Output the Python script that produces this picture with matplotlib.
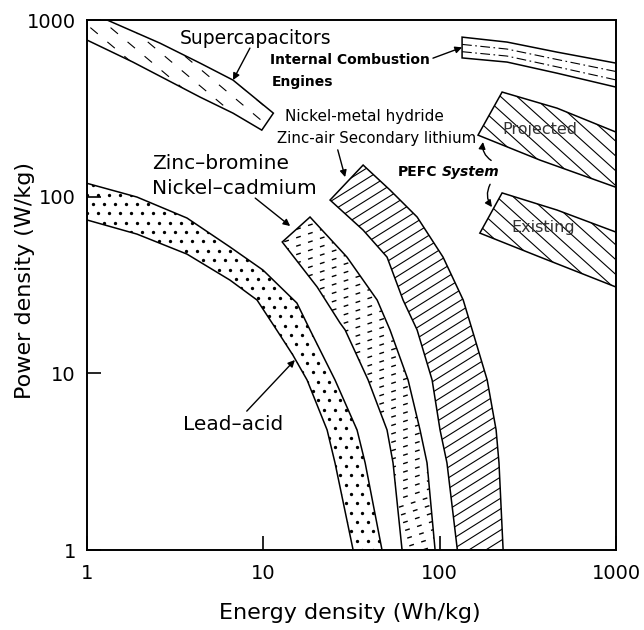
import numpy as np
import matplotlib
matplotlib.use("Agg")
import matplotlib.pyplot as plt
from matplotlib.patches import Polygon
from matplotlib.collections import LineCollection

plt.rcParams['lines.scale_dashes'] = False

# energy density (Wh/kg) / power density (W/kg)
lead_out_e = [1, 1.92, 3.69, 6.47, 9.96, 15.5, 18.4, 25.5, 34.0, 37.8, 47.1]
lead_out_p = [119, 99.5, 75.7, 51.9, 38.4, 25.0, 17.6, 9.17, 4.78, 3.11, 1]
lead_in_e = [1, 1.92, 3.69, 6.47, 9.21, 11.9, 14.7, 17.7, 23.0, 25.5, 32.3]
lead_in_p = [73.8, 61.4, 47.3, 33.7, 26.0, 17.6, 12.7, 9.17, 4.78, 3.11, 1]

zinc_out_e = [18.4, 29.8, 44.2, 52.3, 66.2, 77.4, 84.8, 94.2]
zinc_out_p = [76.7, 45.5, 26.0, 17.6, 9.17, 4.78, 3.11, 1]
zinc_in_e = [12.8, 20.2, 27.2, 29.1, 39.3, 50.3, 54.4, 61.2]
zinc_in_p = [55.4, 30.8, 19.3, 17.6, 9.17, 4.78, 3.11, 1]

nimh_out_e = [36.8, 52.3, 74.5, 104.5, 136, 153, 186, 209, 217, 229]
nimh_out_p = [151, 109, 76.7, 45.5, 26.0, 17.6, 9.17, 4.78, 3.11, 1]
nimh_in_e = [23.9, 36.8, 50.3, 62.0, 74.5, 90.6, 100.5, 110, 126]
nimh_in_p = [95.7, 64.7, 45.5, 26.0, 17.6, 9.17, 4.78, 3.11, 1]

cap_up_e = [1.30, 2.59, 4.38, 6.73, 11.4]
cap_up_p = [1000, 740, 570, 457, 297]
cap_lo_e = [1, 1.82, 4.38, 6.73, 9.8]
cap_lo_p = [770, 578, 366, 297, 238]

eng_e = [134, 241, 463, 1000]
eng_up = [800, 750, 658, 570]
eng_lo = [610, 578, 500, 417]

proj_up_e, proj_up_p = [226, 463, 1000], [391, 317, 232]
proj_lo_e, proj_lo_p = [165, 371, 1000], [223, 161, 113]
exist_up_e, exist_up_p = [226, 463, 1000], [105, 84, 63]
exist_lo_e, exist_lo_p = [169, 371, 1000], [62.2, 45.5, 30.8]

ticks = [1, 10, 100, 1000]
tick_labels = ['1', '10', '100', '1000']


def band(ax, e1, p1, e2, p2, extra=()):
    pts = list(zip(e1, p1)) + list(zip(e2, p2))[::-1] + list(extra)
    patch = Polygon(pts, closed=True, facecolor='none', edgecolor='k', lw=1.1)
    ax.add_patch(patch)
    return patch


def hatch(ax, patch, angle, step, lw=0.8, ls='-'):
    a = np.radians(angle)
    d = np.array([np.cos(a), np.sin(a)])
    n = np.array([-np.sin(a), np.cos(a)])
    c0 = np.array([0.5, 0.5])
    segs = [[c0 + c * n - 1.5 * d, c0 + c * n + 1.5 * d]
            for c in np.arange(-1.0, 1.0, step / 530)]
    lc = LineCollection(segs, colors='k', linewidths=lw, linestyles=[ls],
                        transform=ax.transAxes)
    ax.add_collection(lc, autolim=False)
    lc.set_clip_path(patch)


def dots(ax, patch, step):
    gx, gy = np.meshgrid(np.arange(0, 1, step / 529), np.arange(0, 1, step * 0.85 / 530))
    gx = gx + (np.arange(gy.shape[0]) % 2)[:, None] * step / 529 / 2
    ln, = ax.plot(gx.ravel(), gy.ravel(), 'o', ms=2.4, color='k', mew=0,
                  transform=ax.transAxes)
    ln.set_clip_path(patch)


fig = plt.figure(figsize=(6.44, 6.30), dpi=100)
ax = fig.add_axes([87 / 644, 80 / 630, 529 / 644, 530 / 630])
ax.set_xscale('log')
ax.set_yscale('log')

# bands
p = band(ax, lead_out_e, lead_out_p, lead_in_e, lead_in_p)
dots(ax, p, 11)
p = band(ax, zinc_out_e, zinc_out_p, zinc_in_e, zinc_in_p)
hatch(ax, p, 18, 8, lw=1.0, ls=(0, (3.5, 5.5)))
p = band(ax, nimh_out_e, nimh_out_p, nimh_in_e, nimh_in_p)
hatch(ax, p, 32, 9)
p = band(ax, cap_lo_e, cap_lo_p, cap_up_e, cap_up_p, extra=[(1, 1000)])
hatch(ax, p, -40, 13, lw=0.8, ls=(0, (7, 9)))
p = band(ax, eng_e, eng_up, eng_e, eng_lo)
up, lo = np.array(eng_up), np.array(eng_lo)
for f in (0.3, 0.65):
    ln, = ax.plot(eng_e, up ** f * lo ** (1 - f), color='k', lw=0.8,
                  ls=(0, (7, 2.5, 1.2, 2.5)))
    ln.set_clip_path(p)
p = band(ax, proj_up_e, proj_up_p, proj_lo_e, proj_lo_p)
hatch(ax, p, -42, 11)
p = band(ax, exist_up_e, exist_up_p, exist_lo_e, exist_lo_p)
hatch(ax, p, -42, 11)

# labels and arrows
arrow = dict(arrowstyle='-|>', color='k', lw=1.0, mutation_scale=10,
             shrinkA=0, shrinkB=0)
fa = 'axes fraction'
ax.text(0.176, 0.966, 'Supercapacitors', transform=ax.transAxes, fontsize=13.5, va='center')
ax.annotate('', xy=(6.73, 457), xytext=(0.308, 0.947), textcoords=fa, arrowprops=arrow)

ax.text(0.346, 0.925, 'Internal Combustion', transform=ax.transAxes, fontsize=10,
        fontweight='bold', va='center')
ax.text(0.350, 0.883, 'Engines', transform=ax.transAxes, fontsize=10,
        fontweight='bold', va='center')
ax.annotate('', xy=(134, 700), xytext=(0.654, 0.928), textcoords=fa, arrowprops=arrow)

ax.text(0.374, 0.817, 'Nickel-metal hydride', transform=ax.transAxes, fontsize=11, va='center')
ax.text(0.359, 0.777, 'Zinc-air Secondary lithium', transform=ax.transAxes, fontsize=10.8,
        va='center')
ax.annotate('', xy=(29.1, 129), xytext=(0.474, 0.755), textcoords=fa, arrowprops=arrow)

ax.text(0.123, 0.730, 'Zinc\u2013bromine', transform=ax.transAxes, fontsize=14.5, va='center')
ax.text(0.123, 0.683, 'Nickel\u2013cadmium', transform=ax.transAxes, fontsize=14.5, va='center')
ax.annotate('', xy=(14.2, 68.2), xytext=(0.318, 0.664), textcoords=fa, arrowprops=arrow)

ax.text(0.181, 0.236, 'Lead\u2013acid', transform=ax.transAxes, fontsize=14.5, va='center')
ax.annotate('', xy=(15.1, 11.9), xytext=(0.302, 0.262), textcoords=fa, arrowprops=arrow)

pefc = ax.text(0.588, 0.713, 'PEFC', transform=ax.transAxes, fontsize=10,
               fontweight='bold', va='center')
ax.annotate('System', xy=(1, 0.5), xycoords=pefc, xytext=(3, 0), textcoords='offset points',
            fontsize=10, fontweight='bold', fontstyle='italic', va='center')
ax.annotate('', xy=(176, 204), xytext=(0.764, 0.735), textcoords=fa,
            arrowprops=dict(arrow, connectionstyle='arc3,rad=-0.3'))
ax.annotate('', xy=(198, 87.3), xytext=(0.762, 0.690), textcoords=fa,
            arrowprops=dict(arrow, connectionstyle='arc3,rad=0.3'))
ax.text(0.856, 0.794, 'Projected', transform=ax.transAxes, fontsize=11.5,
        ha='center', va='center', color='#333333')
ax.text(0.862, 0.608, 'Existing', transform=ax.transAxes, fontsize=11.5,
        ha='center', va='center', color='#333333')

# axes
ax.set_xlim(1, 1000)
ax.set_ylim(1, 1000)
ax.set_xticks(ticks)
ax.set_xticklabels(tick_labels)
ax.set_yticks(ticks)
ax.set_yticklabels(tick_labels)
ax.minorticks_off()
ax.tick_params(direction='in', length=10, width=1.2, labelsize=14)
ax.tick_params(axis='x', pad=10)
ax.tick_params(axis='y', pad=8)
for s in ax.spines.values():
    s.set_linewidth(1.4)

ax.set_xlabel('Energy density (Wh/kg)', fontsize=16, va='center')
ax.xaxis.set_label_coords(0.497, -0.119)
ax.set_ylabel('Power density (W/kg)', fontsize=16, va='center')
ax.yaxis.set_label_coords(-0.117, 0.509)

fig.savefig('out.png', dpi=100)
